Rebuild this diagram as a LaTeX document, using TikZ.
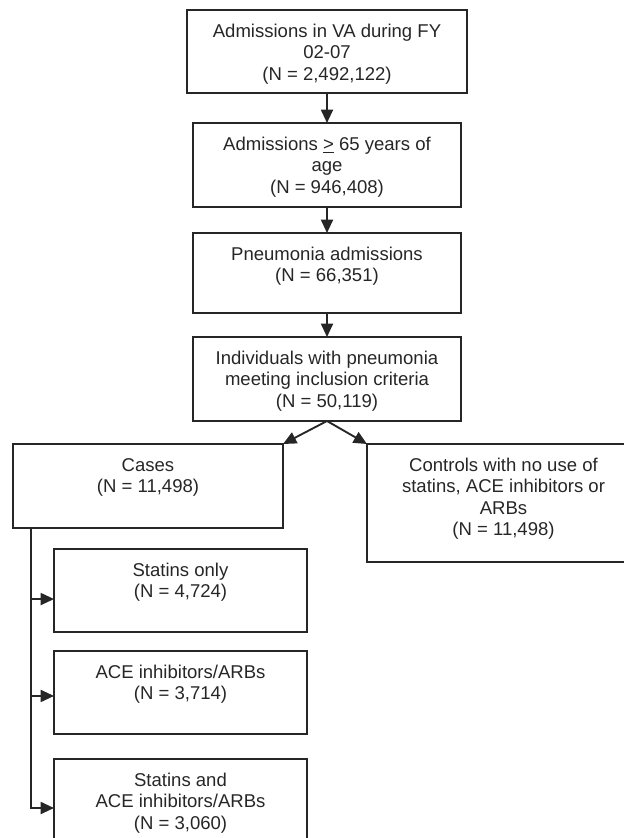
\documentclass[tikz,border=0pt]{standalone}
\usepackage{fontspec}
\setmainfont{Liberation Sans}
\usetikzlibrary{arrows.meta}

\newdimen\pxu \pxu=0.75pt
% box text: width, height (in px), lines
\newcommand{\boxtxt}[3]{\parbox[c][#2\pxu][t]{#1\pxu}{\centering\rule{0pt}{20.7pt}#3}}

\tikzset{
  flowbox/.style={draw=black!85, line width=1.4pt, inner sep=0pt, outer sep=0pt, anchor=north west},
  conn/.style={draw=black!85, line width=1.4pt, -{Triangle[length=10pt,width=9pt]}},
}

\begin{document}
\begin{tikzpicture}[x=0.75pt,y=0.75pt,yscale=-1,xscale=1,
  every node/.style={font=\fontsize{13.9pt}{16pt}\selectfont, text=black!85}]
\useasboundingbox (0,0) rectangle (624,838);

% Text Node
\node [flowbox] (adm) at (187,10) {\boxtxt{280}{83}{Admissions in VA during FY\\02-07\\(N = 2,492,122)}};
% Text Node
\node [flowbox] (age) at (193,123) {\boxtxt{268}{84}{Admissions \underline{>} 65 years of\\age\\(N = 946,408)}};
% Text Node
\node [flowbox] (pneu) at (193,233) {\boxtxt{268}{80}{Pneumonia admissions\\(N = 66,351)}};
% Text Node
\node [flowbox] (indiv) at (193,337) {\boxtxt{268}{84}{Individuals with pneumonia\\meeting inclusion criteria\\(N = 50,119)}};
% Text Node
\node [flowbox] (cases) at (13,444) {\boxtxt{270}{84}{Cases\\(N = 11,498)}};
% Text Node
\node [flowbox] (ctrl) at (367,444) {\boxtxt{273}{118}{Controls with no use of\\statins, ACE inhibitors or\\ARBs\\(N = 11,498)}};
% Text Node
\node [flowbox] (statins) at (54,549) {\boxtxt{253}{83}{Statins only\\(N = 4,724)}};
% Text Node
\node [flowbox] (ace) at (54,651) {\boxtxt{253}{83}{ACE inhibitors/ARBs\\(N = 3,714)}};
% Text Node
\node [flowbox] (both) at (54,759) {\boxtxt{253}{86}{Statins and\\ACE inhibitors/ARBs\\(N = 3,060)}};

% Connection
\draw [conn] (adm.south) -- (age.north);
\draw [conn] (age.south) -- (pneu.north);
\draw [conn] (pneu.south) -- (indiv.north);
% Connection
\draw [conn] (indiv.south) -- (cases.north east);
\draw [conn] (indiv.south) -- (ctrl.north west);
% Connection
\coordinate (trunk) at (31,528);
\draw [conn] (trunk) |- ([yshift=6.4pt]statins.west);
\draw [conn] (trunk) |- ([yshift=2.6pt]ace.west);
\draw [conn] (trunk) |- ([yshift=4.5pt]both.west);

\end{tikzpicture}
\end{document}
